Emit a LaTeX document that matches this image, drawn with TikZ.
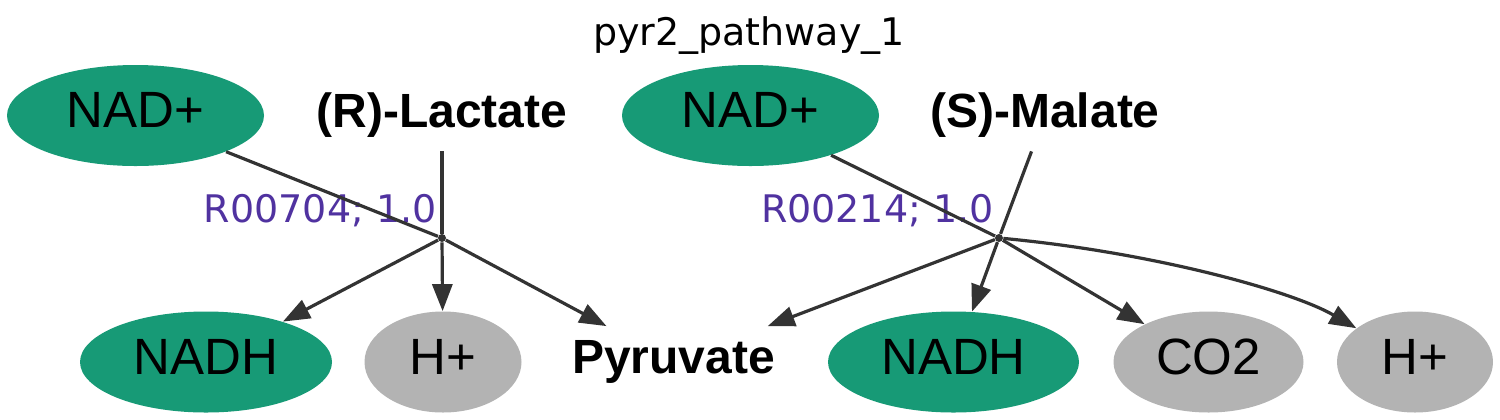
\documentclass[tikz,border=0pt]{standalone}
\usepackage{fontspec}
\usetikzlibrary{shapes.geometric,arrows.meta}
\newfontfamily\libsans{Liberation Sans}
\newfontfamily\dvsans{DejaVu Sans}
\definecolor{dgreen}{HTML}{179A76}
\definecolor{lgray}{HTML}{B3B3B3}
\definecolor{edgec}{HTML}{333333}
\definecolor{lblc}{RGB}{80,50,160}
\begin{document}
\begin{tikzpicture}[x=0.5pt,y=-0.5pt,
  met/.style={ellipse, inner sep=0pt, draw=none,
    font=\libsans\fontsize{25.5pt}{30pt}\selectfont,
    text height=18pt, text depth=6pt, minimum height=50.5pt},
  cofg/.style={met, fill=dgreen},
  cofgr/.style={met, fill=lgray},
  cpd/.style={rectangle, inner sep=0pt, minimum height=35.5pt,
    font=\libsans\bfseries\fontsize{24pt}{29pt}\selectfont,
    text height=17.5pt, text depth=6pt},
  rxn/.style={circle, fill=edgec, inner sep=0pt, minimum size=4pt},
  lbl/.style={font=\dvsans\fontsize{19pt}{22pt}\selectfont, text=lblc,
    inner sep=0pt, anchor=base east},
  conn/.style={draw=edgec, line width=1.6pt},
  arr/.style={conn, -{Triangle[length=13.5pt,width=10pt]}}
]
\useasboundingbox (0,0) rectangle (1500,419);
% title
\node[font=\dvsans\fontsize{19pt}{22pt}\selectfont, inner sep=0pt, anchor=base] (title) at (749,45) {pyr2\_pathway\_1};
% top row
\node[cofg, minimum width=128.5pt] (nad1) at (135.5,115.5) {NAD+};
\node[cpd] (lac) at (442,115.5) {(R)-Lactate};
\node[cofg, minimum width=128.5pt] (nad2) at (750.5,115.5) {NAD+};
\node[cpd] (mal) at (1045,115.5) {(S)-Malate};
% bottom row
\node[cofg, minimum width=126pt] (nadh1) at (206,362) {NADH};
\node[cofgr, minimum width=78.5pt] (hp1) at (443,362) {H+};
\node[cpd] (pyr) at (673.5,362) {Pyruvate};
\node[cofg, minimum width=125.5pt] (nadh2) at (953.5,362) {NADH};
\node[cofgr, minimum width=95pt] (co2) at (1208.5,362) {CO2};
\node[cofgr, minimum width=78pt] (hp2) at (1415,362) {H+};
% reactions
\node[rxn] (r1) at (442,238) {};
\node[rxn] (r2) at (999,238) {};
\node[lbl] (l1) at (437,222) {R00704; 1.0};
\node[lbl] (l2) at (994,222) {R00214; 1.0};
% edges
\draw[conn] (nad1) -- (r1);
\draw[conn] (lac) -- (r1);
\draw[arr] (r1) -- (nadh1);
\draw[arr] (r1) -- (hp1);
\draw[arr] (r1) -- (pyr);
\draw[conn] (nad2) -- (r2);
\draw[conn] (mal) -- (r2);
\draw[arr] (r2) -- (pyr);
\draw[arr] (r2) -- (nadh2);
\draw[arr] (r2) -- (co2);
\draw[arr] (r2) .. controls (1149,252) and (1290,290) .. (hp2);
\end{tikzpicture}
\end{document}
